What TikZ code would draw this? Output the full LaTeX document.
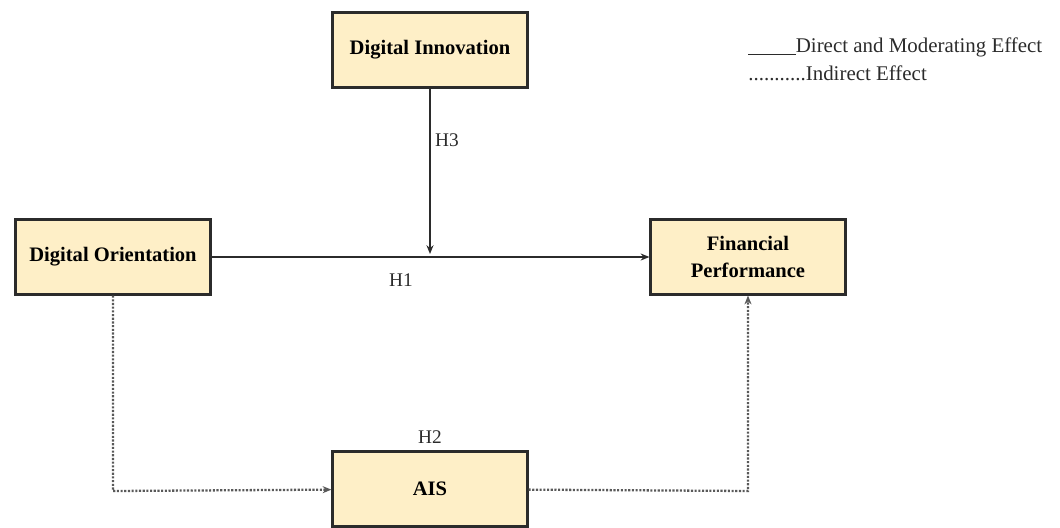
\documentclass[tikz,border=0pt]{standalone}
\usepackage{fontspec}
\setmainfont{Liberation Serif}
\usetikzlibrary{arrows.meta}
\definecolor{boxfill}{HTML}{FEEFC7}
\definecolor{edge}{HTML}{2B2B2B}
\tikzset{var/.style={draw=edge,line width=1.2pt,fill=boxfill,minimum width=3.9cm,minimum height=1.5cm,font=\fontsize{11.7}{15}\selectfont\bfseries,align=center},
  lbl/.style={font=\fontsize{11}{13}\selectfont,text=edge},
  dots/.style={draw=gray!70!black,dash pattern=on 1.2pt off 0.9pt,line width=1.3pt}}
\begin{document}
\begin{tikzpicture}[x=0.2mm,y=-0.2mm]
\useasboundingbox (0,0) rectangle (1060,527);
\node[var] (di) at (430,50){Digital Innovation};\node[var] (do) at (113,257){Digital Orientation};
\node[var] (fp) at (748,257){Financial\\Performance};\node[var] (ais) at (430,489){AIS};
\coordinate (mod) at (430,254);\coordinate (dl) at (113,491);\coordinate (dr) at (748,491);
\draw[edge,line width=.8pt,-{Stealth[length=5pt,width=4pt]}] (do)--(fp);
\draw[edge,line width=.8pt,-{Stealth[length=5pt,width=4pt]}] (di)--(mod);
\draw[dots,-{Stealth[length=5pt,width=4pt]}] (do)--(dl)--(ais);
\draw[dots,-{Stealth[length=5pt,width=4pt]}] (ais)--(dr)--(fp);
\node[lbl] (h3) at (447,140){H3};\node[lbl] (h1) at (401,280){H1};\node[lbl] (h2) at (430,437){H2};
% legend
\node[lbl,font=\fontsize{11.9}{14}\selectfont,anchor=west,inner sep=0pt] (leg1) at (748,47){\underline{\hspace{0.95cm}}Direct and Moderating Effect};
\node[lbl,font=\fontsize{11.9}{14}\selectfont,anchor=west,inner sep=0pt] (leg2) at (748,73){...........Indirect Effect};
\end{tikzpicture}
\end{document}
